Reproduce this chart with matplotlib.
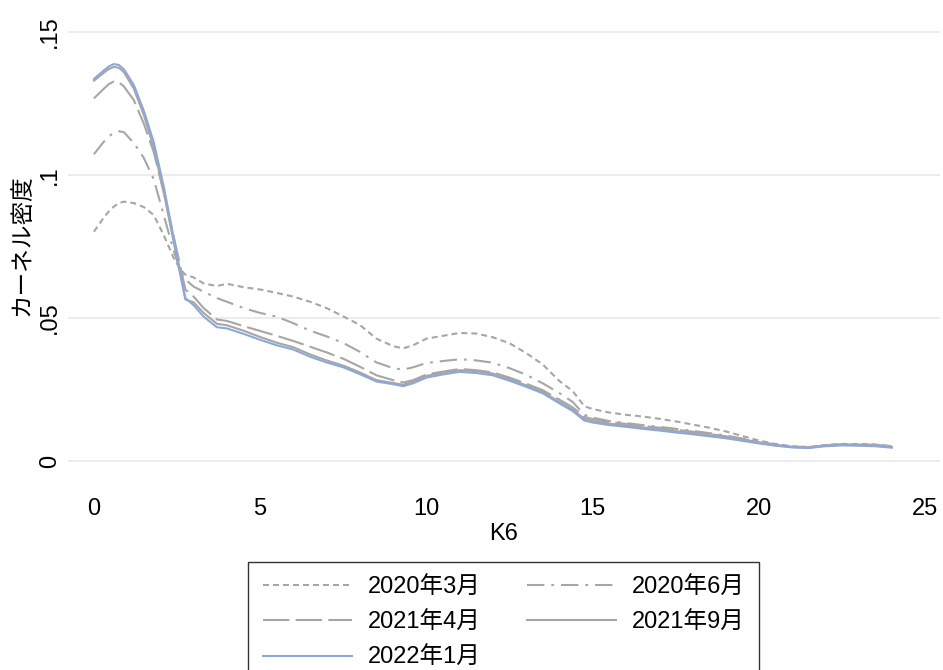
import numpy as np
import matplotlib
matplotlib.use("Agg")
import matplotlib.pyplot as plt

plt.rcParams["font.family"] = ["Liberation Sans", "Noto Sans CJK JP", "DejaVu Sans"]
plt.rcParams["lines.scale_dashes"] = False

# K6 グリッド
k6 = [0, 0.3, 0.45, 0.6, 0.75, 0.9, 1.2, 1.5, 1.8, 2.1, 2.4, 2.6, 2.75, 3.0,
      3.3, 3.7, 4.0, 4.5, 5.0, 5.5, 6.0, 6.5, 7.0, 7.5, 8.0, 8.5, 9.0, 9.3,
      9.6, 10.0, 10.5, 11.0, 11.5, 12.0, 12.5, 13.0, 13.5, 14.0, 14.4, 14.75,
      15.0, 15.5, 16, 16.5, 17, 17.5, 18, 18.5, 19, 19.5, 20, 20.5, 21, 21.5,
      22, 22.5, 23, 23.5, 24]

d_2020_03 = [0.0802, 0.0852, 0.0873, 0.0890, 0.0902, 0.0907, 0.0902, 0.0888,
             0.0860, 0.0790, 0.0710, 0.0670, 0.0652, 0.0642, 0.0621, 0.0612,
             0.0620, 0.0608, 0.0600, 0.0588, 0.0575, 0.0557, 0.0535, 0.0506,
             0.0476, 0.0428, 0.0402, 0.0394, 0.0405, 0.0428, 0.0438, 0.0448,
             0.0446, 0.0433, 0.0412, 0.0378, 0.0338, 0.0280, 0.0245, 0.0192,
             0.0182, 0.0170, 0.0162, 0.0156, 0.0148, 0.0139, 0.0128, 0.0117,
             0.0104, 0.0088, 0.0072, 0.0060, 0.0052, 0.0049, 0.0056, 0.0060,
             0.0060, 0.0058, 0.0053]

d_2020_06 = [0.1073, 0.1117, 0.1135, 0.1148, 0.1153, 0.1150, 0.1112, 0.1060,
             0.0985, 0.0860, 0.0735, 0.0665, 0.0635, 0.0610, 0.0592, 0.0570,
             0.0557, 0.0535, 0.0518, 0.0505, 0.0482, 0.0456, 0.0436, 0.0413,
             0.0382, 0.0345, 0.0325, 0.0320, 0.0328, 0.0343, 0.0350, 0.0356,
             0.0352, 0.0344, 0.0325, 0.0302, 0.0272, 0.0238, 0.0207, 0.0162,
             0.0152, 0.0140, 0.0133, 0.0126, 0.0120, 0.0113, 0.0106, 0.0098,
             0.0090, 0.0079, 0.0068, 0.0058, 0.0051, 0.0049, 0.0056, 0.0059,
             0.0059, 0.0057, 0.0052]

d_2021_04 = [0.1268, 0.1302, 0.1318, 0.1327, 0.1324, 0.1310, 0.1262, 0.1180,
             0.1080, 0.0940, 0.0785, 0.0680, 0.0600, 0.0575, 0.0535, 0.0495,
             0.0490, 0.0472, 0.0455, 0.0438, 0.0420, 0.0400, 0.0380, 0.0358,
             0.0330, 0.0300, 0.0283, 0.0275, 0.0283, 0.0303, 0.0313, 0.0322,
             0.0318, 0.0310, 0.0292, 0.0271, 0.0248, 0.0215, 0.0188, 0.0155,
             0.0147, 0.0137, 0.0130, 0.0123, 0.0117, 0.0110, 0.0103, 0.0095,
             0.0087, 0.0077, 0.0066, 0.0057, 0.0050, 0.0048, 0.0055, 0.0058,
             0.0058, 0.0056, 0.0051]

d_2021_09 = [0.1330, 0.1358, 0.1371, 0.1378, 0.1375, 0.1360, 0.1302, 0.1210,
             0.1095, 0.0940, 0.0765, 0.0650, 0.0565, 0.0555, 0.0518, 0.0480,
             0.0475, 0.0456, 0.0434, 0.0414, 0.0398, 0.0373, 0.0352, 0.0334,
             0.0310, 0.0283, 0.0273, 0.0267, 0.0278, 0.0298, 0.0309, 0.0318,
             0.0314, 0.0306, 0.0287, 0.0265, 0.0242, 0.0207, 0.0180, 0.0148,
             0.0140, 0.0131, 0.0125, 0.0118, 0.0112, 0.0105, 0.0098, 0.0091,
             0.0083, 0.0074, 0.0064, 0.0055, 0.0049, 0.0047, 0.0054, 0.0057,
             0.0056, 0.0054, 0.0049]

d_2022_01 = [0.1336, 0.1366, 0.1380, 0.1388, 0.1385, 0.1370, 0.1315, 0.1225,
             0.1115, 0.0960, 0.0780, 0.0660, 0.0570, 0.0545, 0.0505, 0.0468,
             0.0464, 0.0445, 0.0424, 0.0405, 0.0390, 0.0365, 0.0345, 0.0328,
             0.0304, 0.0278, 0.0269, 0.0262, 0.0272, 0.0292, 0.0303, 0.0312,
             0.0308, 0.0300, 0.0281, 0.0260, 0.0237, 0.0202, 0.0175, 0.0142,
             0.0135, 0.0126, 0.0120, 0.0113, 0.0107, 0.0100, 0.0094, 0.0087,
             0.0080, 0.0071, 0.0062, 0.0054, 0.0048, 0.0046, 0.0052, 0.0055,
             0.0054, 0.0052, 0.0047]

labels = ["2020年3月", "2020年6月", "2021年4月", "2021年9月", "2022年1月"]
x_ticks = [0, 5, 10, 15, 20, 25]
y_ticks = [0, 0.05, 0.1, 0.15]
y_ticklabels = ["0", ".05", ".1", ".15"]

gray = "#A6A6A6"
blue = "#8EA7D9"
styles = [
    dict(color=gray, ls=(0, (4.3, 2.9))),
    dict(color=gray, ls=(0, (12.5, 5.0, 2.0, 5.0))),
    dict(color=gray, ls=(0, (19.0, 4.5))),
    dict(color=gray, ls="-"),
    dict(color=blue, ls="-"),
]

fig = plt.figure(figsize=(9.43, 6.70), dpi=100)
W, H = 943, 670
left, right, top, bottom = 68, 940, 10, 480
ax = fig.add_axes([left / W, 1 - bottom / H, (right - left) / W, (bottom - top) / H])

series = [d_2020_03, d_2020_06, d_2021_04, d_2021_09, d_2022_01]
handles = []
for vals, lab, st in zip(series, labels, styles):
    (h,) = ax.plot(k6, vals, lw=1.5, label=lab, **st)
    handles.append(h)

ax.set_xlim(-0.78, 25.45)
ax.set_ylim(-0.0066, 0.1577)
ax.set_xticks(x_ticks)
ax.set_yticks(y_ticks)
ax.set_yticklabels(y_ticklabels, rotation=90, va="center")
ax.tick_params(axis="both", length=0, labelsize=17)
ax.tick_params(axis="x", pad=13)
ax.tick_params(axis="y", pad=5)
ax.grid(axis="y", color="#EAEAEA", lw=1.3)
ax.set_axisbelow(True)
for s in ax.spines.values():
    s.set_visible(False)

ax.set_xlabel("K6", fontsize=17, labelpad=2)
ax.set_ylabel("カーネル密度", fontsize=17, labelpad=4)

# 凡例（行方向の順に並べる）
order = [0, 2, 4, 1, 3]
leg = fig.legend(
    [handles[i] for i in order],
    [labels[i] for i in order],
    loc="upper left",
    bbox_to_anchor=(248 / W, 1 - 562 / H),
    borderaxespad=0,
    ncol=2,
    fontsize=17,
    frameon=True,
    fancybox=False,
    edgecolor="black",
    handlelength=3.8,
    handletextpad=0.65,
    columnspacing=1.95,
    labelspacing=0.55,
    borderpad=0.62,
)
leg.get_frame().set_linewidth(1.0)

fig.savefig("out.png", dpi=100)
